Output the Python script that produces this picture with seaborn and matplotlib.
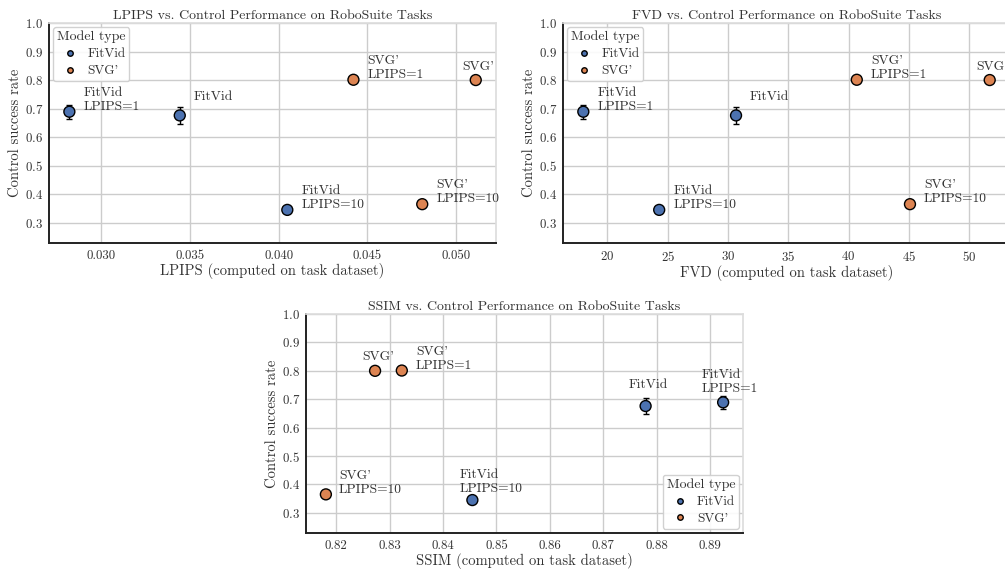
import matplotlib
matplotlib.use("Agg")
import matplotlib.pyplot as plt
import seaborn as sns
import pandas as pd

# values
models = ["FitVid", "FitVid", "FitVid", "SVG'", "SVG'", "SVG'"]
labels = ["FitVid", "FitVid\nLPIPS=1", "FitVid\nLPIPS=10", "SVG'", "SVG'\nLPIPS=1", "SVG'\nLPIPS=10"]
lpips = [0.03444, 0.02823, 0.04049, 0.05109, 0.04421, 0.04808]
fvd = [30.67, 18.01, 24.30, 51.70, 40.68, 45.09]
ssim = [0.8779, 0.8924, 0.8455, 0.8273, 0.8323, 0.8181]
success = [0.676, 0.689, 0.345, 0.800, 0.801, 0.365]
success_err = [0.029, 0.024, 0.012, 0.0, 0.0, 0.0]

df = pd.DataFrame({"Model type": models, "label": labels, "LPIPS": lpips, "FVD": fvd,
                   "SSIM": ssim, "success": success, "err": success_err})

sns.set_theme(style="whitegrid", palette="deep")
plt.rcParams["font.family"] = ["cmr10", "DejaVu Serif"]
plt.rcParams["axes.formatter.use_mathtext"] = True
plt.rcParams["mathtext.fontset"] = "cm"

# label offsets in pixels (dx, dy of first-line baseline)
offs_top = [(14, 15), (14, 15), (14, 15), (-13, 10.5), (14, 15), (14, 15)]
offs_ssim = [(-17, 17.7), (-21, 23.7), (-13, 20.7), (-13, 10.7), (14, 15), (13, 14.3)]
LINE_PX = 13

fig = plt.figure(figsize=(10.05, 5.7), dpi=100)
ax1 = fig.add_axes([0.0488, 0.5737, 0.4448, 0.386])
ax2 = fig.add_axes([0.5602, 0.5737, 0.4448, 0.386])
ax3 = fig.add_axes([0.3045, 0.0649, 0.4348, 0.3842])

TXT = "#333333"


def panel(ax, metric, offs, legend_loc):
    ax.errorbar(df[metric], df["success"], yerr=df["err"], fmt="none", ecolor="black",
                elinewidth=1, capsize=2.5, zorder=2)
    sns.scatterplot(data=df, x=metric, y="success", hue="Model type", hue_order=["FitVid", "SVG'"],
                    s=62, edgecolor="black", linewidth=1, ax=ax, zorder=3)
    for (_, r), (dx, dy) in zip(df.iterrows(), offs):
        dy_last = dy - LINE_PX * r["label"].count("\n")
        ax.annotate(r["label"], (r[metric], r["success"]), xytext=(dx, dy_last),
                    textcoords="offset pixels", fontsize=9.7, color=TXT)
    ax.set_ylim(0.229, 1.0)
    ax.set_yticks([0.3, 0.4, 0.5, 0.6, 0.7, 0.8, 0.9, 1.0])
    ax.set_title(metric + " vs. Control Performance on RoboSuite Tasks", fontsize=10, color=TXT, pad=3)
    ax.set_xlabel(metric + " (computed on task dataset)", fontsize=10.5, color=TXT, labelpad=1)
    ax.set_ylabel("Control success rate", fontsize=10.5, color=TXT, labelpad=2)
    ax.tick_params(axis="x", labelsize=9.3, colors=TXT, length=0, pad=5)
    ax.tick_params(axis="y", labelsize=9.3, colors=TXT, length=0, pad=4.3)
    for s in ["left", "bottom"]:
        ax.spines[s].set_color("#222222")
        ax.spines[s].set_linewidth(1.4)
    for s in ["top", "right"]:
        ax.spines[s].set_color("#dddddd")
    leg = ax.legend(title="Model type", loc=legend_loc, fontsize=9.5, title_fontsize=10,
                    markerscale=0.5, handletextpad=0.3, borderpad=0.3, labelspacing=0.35,
                    borderaxespad=0.3, framealpha=0.9)
    for t in leg.get_texts():
        t.set_color(TXT)
    leg.get_title().set_color(TXT)


panel(ax1, "LPIPS", offs_top, "upper left")
ax1.set_xticks([0.030, 0.035, 0.040, 0.045, 0.050])
ax1.set_xticklabels(["0.030", "0.035", "0.040", "0.045", "0.050"])
panel(ax2, "FVD", offs_top, "upper left")
panel(ax3, "SSIM", offs_ssim, "lower right")
ax3.set_xticks([0.82, 0.83, 0.84, 0.85, 0.86, 0.87, 0.88, 0.89])
ax3.set_xticklabels(["0.82", "0.83", "0.84", "0.85", "0.86", "0.87", "0.88", "0.89"])

fig.savefig("out.png", dpi=100)
